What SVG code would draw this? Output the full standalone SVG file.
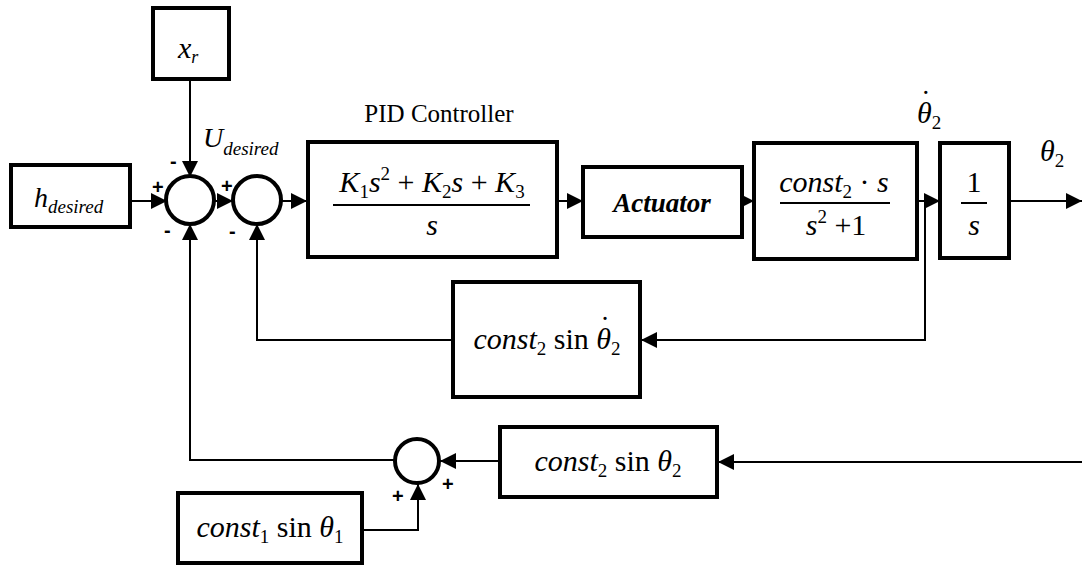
<svg xmlns="http://www.w3.org/2000/svg" width="1082" height="565" viewBox="0 0 1082 565">
<defs>
<marker id="ah" markerUnits="userSpaceOnUse" markerWidth="18" markerHeight="16" refX="16" refY="8" orient="auto">
<path d="M0,0 L16,8 L0,16 Z" fill="#000"/>
</marker>
<style>
.box{fill:#fff;stroke:#000;stroke-width:4}
.sum{fill:#fff;stroke:#000;stroke-width:4}
.ln{fill:none;stroke:#000;stroke-width:2}
.m{font-style:italic;font-size:30px;fill:#000}
.r{font-style:normal}
.sb{font-size:19px;font-style:normal}
.ss{font-size:18px}
.t{font-size:25px;fill:#000}
.act{font-style:italic;font-weight:bold;font-size:27px;fill:#000}
.sg{font-weight:bold;font-size:20px;fill:#000}
</style>
</defs>
<rect width="1082" height="565" fill="#fff"/>

<g id="connectors">
<line class="ln" x1="190" y1="79" x2="190" y2="177" marker-end="url(#ah)"/>
<line class="ln" x1="130" y1="201" x2="167" y2="201" marker-end="url(#ah)"/>
<line class="ln" x1="213" y1="201" x2="233" y2="201" marker-end="url(#ah)"/>
<line class="ln" x1="280" y1="201" x2="307" y2="201" marker-end="url(#ah)"/>
<line class="ln" x1="557" y1="201" x2="583" y2="201" marker-end="url(#ah)"/>
<line class="ln" x1="742" y1="201" x2="754" y2="201" marker-end="url(#ah)"/>
<line class="ln" x1="917" y1="201" x2="940" y2="201" marker-end="url(#ah)"/>
<line class="ln" x1="1009" y1="201" x2="1082" y2="201" marker-end="url(#ah)"/>
<polyline class="ln" points="925,201 925,340 641,340" marker-end="url(#ah)"/>
<polyline class="ln" points="453,340 257,340 257,224" marker-end="url(#ah)"/>
<polyline class="ln" points="395,460 190,460 190,224" marker-end="url(#ah)"/>
<line class="ln" x1="1082" y1="462" x2="718" y2="462" marker-end="url(#ah)"/>
<line class="ln" x1="500" y1="461" x2="440" y2="461" marker-end="url(#ah)"/>
<polyline class="ln" points="362,530 418,530 418,484" marker-end="url(#ah)"/>
</g>

<g id="xr">
<rect class="box" x="153" y="8" width="76" height="71"/>
<text class="m" x="178" y="58" font-family="Liberation Serif, Times New Roman, serif">x<tspan class="ss" dy="5">r</tspan></text>
</g>

<g id="hdesired">
<rect class="box" x="11" y="165" width="119" height="62"/>
<text class="m" x="34" y="207" font-family="Liberation Serif, Times New Roman, serif" style="font-size:28px">h<tspan class="ss" dy="6" style="font-size:19px">desired</tspan></text>
</g>

<g id="udesired-label">
<text class="m" x="203" y="147" font-family="Liberation Serif, Times New Roman, serif" style="font-size:28px">U<tspan dy="8" style="font-size:19px">desired</tspan></text>
</g>

<g id="sum1">
<circle class="sum" cx="190" cy="200" r="24"/>
<text class="sg" x="152" y="194" font-family="Liberation Sans, Arial, sans-serif">+</text>
<text class="sg" x="170" y="168" font-family="Liberation Sans, Arial, sans-serif">-</text>
<text class="sg" x="164" y="237" font-family="Liberation Sans, Arial, sans-serif">-</text>
</g>

<g id="sum2">
<circle class="sum" cx="257" cy="200" r="24"/>
<text class="sg" x="221" y="193" font-family="Liberation Sans, Arial, sans-serif">+</text>
<text class="sg" x="229" y="238" font-family="Liberation Sans, Arial, sans-serif">-</text>
</g>

<g id="pid">
<text class="t" x="439" y="122" text-anchor="middle" font-family="Liberation Serif, Times New Roman, serif">PID Controller</text>
<rect class="box" x="308" y="142" width="249" height="115"/>
<text class="m" x="432" y="192" text-anchor="middle" font-family="Liberation Serif, Times New Roman, serif">K<tspan class="sb" dy="6">1</tspan><tspan dy="-6">s</tspan><tspan class="sb" dy="-12">2</tspan><tspan class="r" dy="12"> + </tspan>K<tspan class="sb" dy="6">2</tspan><tspan dy="-6">s</tspan><tspan class="r"> + </tspan>K<tspan class="sb" dy="6">3</tspan></text>
<line x1="333" y1="205" x2="530" y2="205" stroke="#000" stroke-width="2"/>
<text class="m" x="432" y="235" text-anchor="middle" font-family="Liberation Serif, Times New Roman, serif">s</text>
</g>

<g id="actuator">
<rect class="box" x="583" y="167" width="159" height="70"/>
<text class="act" x="662" y="212" text-anchor="middle" font-family="Liberation Serif, Times New Roman, serif">Actuator</text>
</g>

<g id="plant">
<rect class="box" x="754" y="143" width="163" height="116"/>
<text class="m" x="834" y="192" text-anchor="middle" font-family="Liberation Serif, Times New Roman, serif">const<tspan class="sb" dy="6">2</tspan><tspan class="r" dy="-6"> · </tspan>s</text>
<line x1="780" y1="203" x2="890" y2="203" stroke="#000" stroke-width="2"/>
<text class="m" x="836" y="235" text-anchor="middle" font-family="Liberation Serif, Times New Roman, serif">s<tspan class="sb" dy="-12">2</tspan><tspan class="r" dy="12"> +1</tspan></text>
</g>

<g id="theta2dot-label">
<text class="m" x="917" y="123" font-family="Liberation Serif, Times New Roman, serif">θ<tspan class="r" dx="-11" dy="-12">˙</tspan><tspan class="sb" dx="1" dy="18">2</tspan></text>
</g>

<g id="integrator">
<rect class="box" x="940" y="143" width="69" height="115"/>
<text class="m r" x="974" y="192" text-anchor="middle" font-family="Liberation Serif, Times New Roman, serif" style="font-style:normal">1</text>
<line x1="961" y1="203" x2="987" y2="203" stroke="#000" stroke-width="2"/>
<text class="m" x="974" y="235" text-anchor="middle" font-family="Liberation Serif, Times New Roman, serif">s</text>
</g>

<g id="theta2-label">
<text class="m" x="1040" y="161" font-family="Liberation Serif, Times New Roman, serif">θ<tspan class="sb" dy="6">2</tspan></text>
</g>

<g id="fb-thetadot">
<rect class="box" x="453" y="282" width="187" height="115"/>
<text class="m" x="547" y="349" text-anchor="middle" font-family="Liberation Serif, Times New Roman, serif">const<tspan class="sb" dy="6">2</tspan><tspan class="r" dy="-6"> sin </tspan>θ<tspan class="r" dx="-11" dy="-12">˙</tspan><tspan class="sb" dx="1" dy="18">2</tspan></text>
</g>

<g id="sum3">
<circle class="sum" cx="417" cy="461" r="22"/>
<text class="sg" x="442" y="491" font-family="Liberation Sans, Arial, sans-serif">+</text>
<text class="sg" x="392" y="503" font-family="Liberation Sans, Arial, sans-serif">+</text>
</g>

<g id="fb-theta2">
<rect class="box" x="500" y="427" width="217" height="70"/>
<text class="m" x="608" y="471" text-anchor="middle" font-family="Liberation Serif, Times New Roman, serif">const<tspan class="sb" dy="6">2</tspan><tspan class="r" dy="-6"> sin </tspan>θ<tspan class="sb" dy="6">2</tspan></text>
</g>

<g id="fb-theta1">
<rect class="box" x="178" y="493" width="184" height="70"/>
<text class="m" x="270" y="537" text-anchor="middle" font-family="Liberation Serif, Times New Roman, serif">const<tspan class="sb" dy="6">1</tspan><tspan class="r" dy="-6"> sin </tspan>θ<tspan class="sb" dy="6">1</tspan></text>
</g>
</svg>
